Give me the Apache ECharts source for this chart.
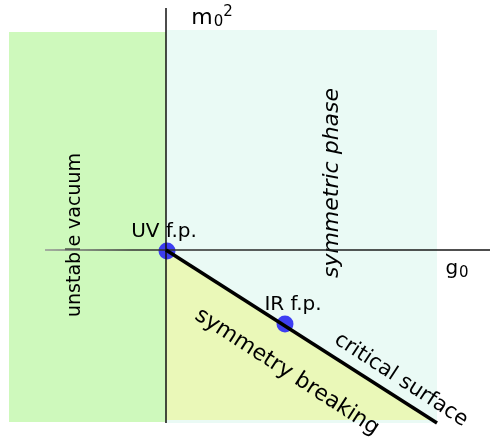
<!DOCTYPE html>
<html>
<head>
<meta charset="utf-8">
<script src="https://cdn.jsdelivr.net/npm/echarts@6/dist/echarts.min.js"></script>
<style>html,body{margin:0;padding:0;background:#fff}#c{width:490px;height:443px}</style>
</head>
<body>
<div id="c"></div>
<script>
// phase regions (g0, m0^2)
var unstableRegion = [[-1.57, 2.18], [0, 2.18], [0, -1.72], [-1.57, -1.72]];
var symmetricRegion = [[0, 2.20], [2.71, 2.20], [2.71, -1.73], [0, -1.73]];
var brokenRegion = [[0, 0], [2.66, -1.70], [0, -1.70]];
var criticalSurface = [[0, 0], [2.71, -1.73]];
var fixedPoints = [[0.01, -0.01], [1.19, -0.74]];
var gAxis = [[-1.21, 0], [3.24, 0]];
var mAxis = [[0, -1.73], [0, 2.42]];
var labels = [
  {text: '{m|m}{sub|0}{sup|2}', at: [0.46, 2.32]},
  {text: '{b|g}{sub|0}', at: [2.91, -0.19]},
  {text: 'UV f.p.', at: [-0.02, 0.18]},
  {text: 'IR f.p.', at: [1.27, -0.55]},
  {text: 'unstable vacuum', at: [-0.91, 0.15]},
  {text: 'symmetric phase', at: [1.66, 0.67]},
  {text: 'symmetry breaking', at: [1.21, -1.22]},
  {text: 'critical surface', at: [2.35, -1.30]}
];

var labelStyles = [
  {fontSize: 20, rotate: 0},
  {fontSize: 20, rotate: 0},
  {fontSize: 20, rotate: 0},
  {fontSize: 20, rotate: 0},
  {fontSize: 19, rotate: 90},
  {fontSize: 22, rotate: 90, fontStyle: 'italic'},
  {fontSize: 22, rotate: -33},
  {fontSize: 21, rotate: -33}
];

var FONT = '"DejaVu Sans", sans-serif';
var rich = {
  m: {fontSize: 22, lineHeight: 30, verticalAlign: 'middle', fontFamily: FONT, color: '#000'},
  b: {fontSize: 20, lineHeight: 30, verticalAlign: 'middle', fontFamily: FONT, color: '#000'},
  sub: {fontSize: 15, lineHeight: 30, verticalAlign: 'bottom', padding: [0, 0, 3, 1], fontFamily: FONT, color: '#000'},
  sup: {fontSize: 15, lineHeight: 30, verticalAlign: 'top', padding: [2, 0, 0, 0], fontFamily: FONT, color: '#000'}
};

function polySeries(pts, color) {
  return {
    type: 'custom',
    silent: true,
    clip: false,
    data: [0],
    renderItem: function (params, api) {
      return {
        type: 'polygon',
        shape: {points: pts.map(function (p) { return api.coord(p); })},
        style: {fill: color, stroke: null}
      };
    }
  };
}

var chart = echarts.init(document.getElementById('c'), null, {renderer: 'canvas'});
chart.setOption({
  animation: false,
  grid: {left: 10, right: 0, top: 8, bottom: 20},
  xAxis: {type: 'value', min: -1.56, max: 3.24, show: false},
  yAxis: {type: 'value', min: -1.73, max: 2.42, show: false},
  series: [
    polySeries(unstableRegion, '#cef9bc'),
    polySeries(symmetricRegion, '#eafaf5'),
    polySeries(brokenRegion, '#eaf8b8'),
    {type: 'line', data: gAxis, symbol: 'none', clip: false, silent: true,
     lineStyle: {width: 1.4, color: new echarts.graphic.LinearGradient(0, 0, 1, 0, [
       {offset: 0, color: '#999999'}, {offset: 0.2, color: '#333333'}, {offset: 1, color: '#111111'}])}},
    {type: 'line', data: mAxis, symbol: 'none', clip: false, silent: true,
     lineStyle: {color: '#111', width: 1.5}},
    {type: 'line', data: criticalSurface, symbol: 'none', clip: false, silent: true,
     lineStyle: {color: '#000', width: 3.5}},
    {type: 'scatter', data: fixedPoints, symbolSize: 17, clip: false, silent: true,
     itemStyle: {color: '#3434f2', opacity: 0.95}},
    {type: 'scatter', clip: false, silent: true, symbolSize: 0,
     itemStyle: {opacity: 1},
     data: labels.map(function (l, i) {
       var s = labelStyles[i];
       return {
         value: l.at,
         label: {
           show: true, position: 'inside', formatter: l.text, rich: rich,
           fontSize: s.fontSize, rotate: s.rotate, fontStyle: s.fontStyle || 'normal',
           color: '#000', textBorderWidth: 0, fontFamily: FONT, align: 'center', verticalAlign: 'middle'
         }
       };
     })}
  ]
});
</script>
</body>
</html>
